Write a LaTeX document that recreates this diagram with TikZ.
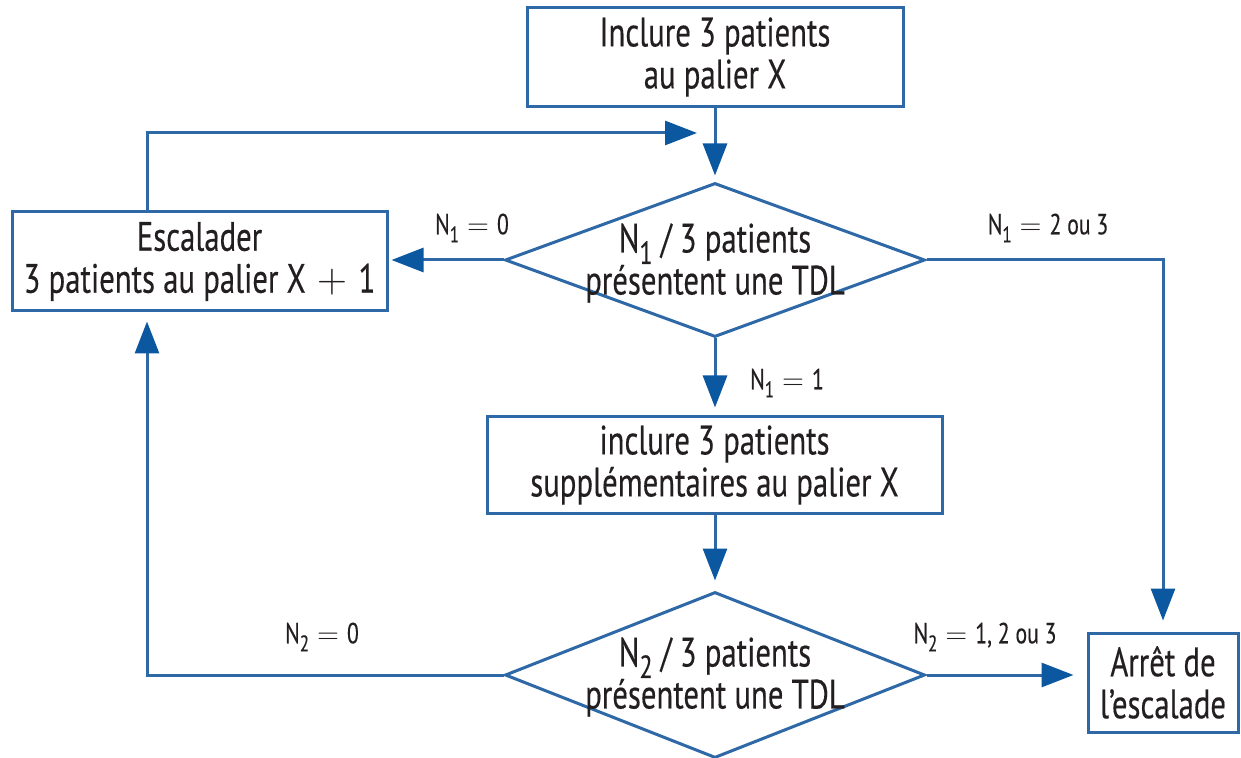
\documentclass[tikz,border=0pt]{standalone}
\usepackage{fontspec}
\setmainfont{PT Sans}[FakeStretch=0.75,FakeBold=0.3]
\usetikzlibrary{arrows.meta,shapes.geometric}
\definecolor{lineblue}{RGB}{46,104,166}
\definecolor{tipblue}{RGB}{12,88,160}
\definecolor{txt}{RGB}{35,31,32}
\newcommand{\lowsub}[1]{\raisebox{-0.28em}{\scalebox{0.78}{#1}}}
\newcommand{\eqsign}{$\;=\;$}
\begin{document}
\begin{tikzpicture}[x=0.5pt,y=-0.5pt,
  mainfont/.style={font=\fontsize{20.5}{21}\selectfont},
  box/.style={draw=lineblue,line width=1.5pt,rectangle,inner sep=0pt,text=txt,align=center,mainfont},
  dia/.style={draw=lineblue,line width=1.5pt,diamond,inner sep=0pt},
  txtnode/.style={text=txt,align=center,inner sep=0pt,mainfont},
  lab/.style={text=txt,inner sep=0pt,font=\fontsize{14.5}{16}\selectfont},
  conn/.style={draw=lineblue,line width=1.5pt,-{Triangle[length=16pt,width=12pt,color=tipblue]}}
]
\useasboundingbox (0,0) rectangle (1241,758);
\fill[white] (0,0) rectangle (1241,758);

\node[box,minimum width=188pt,minimum height=49.5pt] (top) at (715,57) {Inclure 3 patients\\au palier X};
\node[box,minimum width=187.5pt,minimum height=49.5pt] (esc) at (199.5,261.5) {Escalader\\3 patients au palier X$\;+\;$1};
\node[dia,minimum width=210pt,minimum height=77pt] (d1) at (715,260) {};
\node[txtnode] (d1t) at (715,263) {N\lowsub{1} / 3 patients\\présentent une TDL};
\node[box,minimum width=227.5pt,minimum height=48pt] (inc2) at (714.5,465) {inclure 3 patients\\supplémentaires au palier X};
\node[dia,minimum width=210pt,minimum height=83pt] (d2) at (715,675) {};
\node[txtnode] (d2t) at (715,677) {N\lowsub{2} / 3 patients\\présentent une TDL};
\node[box,minimum width=75pt,minimum height=49.5pt] (arret) at (1163,682.5) {Arrêt de\\l’escalade};

\node[lab] (l1) at (472,228) {N\lowsub{1}\eqsign 0};
\node[lab] (l2) at (1048,228) {N\lowsub{1}\eqsign 2 ou 3};
\node[lab] (l3) at (787,383) {N\lowsub{1}\eqsign 1};
\node[lab] (l4) at (322,637) {N\lowsub{2}\eqsign 0};
\node[lab] (l5) at (985,637) {N\lowsub{2}\eqsign 1, 2 ou 3};

\coordinate (loopx) at (147,133);
\coordinate (loopend) at (697,133);

\draw[conn,shorten >=3pt] (top.south) -- (top.south |- d1.north);
\draw[conn] (loopx |- esc.north) -- (loopx) -- (loopend);
\draw[conn,shorten >=1.5pt] (d1.west) -- (d1.west -| esc.east);
\draw[conn,shorten >=5.5pt] (d1.east) -| (arret.north);
\draw[conn,shorten >=4pt] (d1.south) -- (d1.south |- inc2.north);
\draw[conn,shorten >=5pt] (inc2.south -| d2.north) -- (d2.north);
\draw[conn,shorten >=4.5pt] (d2.west) -- (d2.west -| loopx) -- (loopx |- esc.south);
\draw[conn,shorten >=6.5pt] (d2.east) -- (d2.east -| arret.west);
\end{tikzpicture}
\end{document}
